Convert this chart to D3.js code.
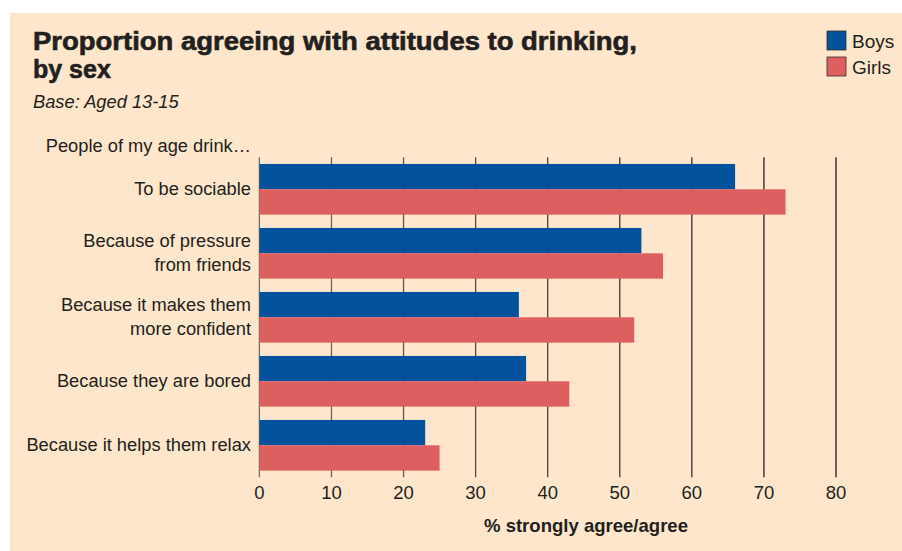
<!DOCTYPE html>
<html lang="en">
<head>
<meta charset="UTF-8">
<title>Proportion agreeing with attitudes to drinking</title>
<script src="https://d3js.org/d3.v7.min.js"></script>
<style>
  body { margin: 0; background: #ffffff; }
  text { font-family: "Liberation Sans", Arial, sans-serif; fill: #231f20; }
</style>
</head>
<body>
<div id="chart"></div>
<script>
// data
const categories = [
    ["To be sociable"],
    ["Because of pressure", "from friends"],
    ["Because it makes them", "more confident"],
    ["Because they are bored"],
    ["Because it helps them relax"]
];
const boys = [66, 53, 36, 37, 23];
const girls = [73, 56, 52, 43, 25];
const ticks = [0, 10, 20, 30, 40, 50, 60, 70, 80];
const seriesNames = ["Boys", "Girls"];
const colors = ["#02539c", "#dd5f60"];

const W = 902, H = 551;

const svg = d3.select("#chart")
    .append("svg")
    .attr("width", W)
    .attr("height", H);

// peach panel
svg.append("rect")
    .attr("x", 10).attr("y", 13)
    .attr("width", W - 10).attr("height", H - 13)
    .attr("fill", "#fde6cb");

const x = d3.scaleLinear().domain([0, 80]).range([259.4, 836]);
const y = d3.scaleBand()
    .domain(d3.range(categories.length))
    .range([157.3, 477.3])
    .paddingInner(0.208)
    .paddingOuter(0.104);
const sub = d3.scaleBand().domain([0, 1]).range([0, y.bandwidth()]);

// gridlines (behind bars)
svg.append("g")
    .selectAll("line")
    .data(ticks)
    .enter()
    .append("line")
    .attr("x1", d => x(d)).attr("x2", d => x(d))
    .attr("y1", 157.3).attr("y2", 477.3)
    .attr("stroke", d => d3.interpolateRgb("#7a6a5c", "#1a1a1a")(d / 80))
    .attr("stroke-width", 1.3);

// bars
const rows = categories.map((c, i) => ({ i, values: [boys[i], girls[i]] }));
const grp = svg.append("g").selectAll("g")
    .data(rows)
    .enter()
    .append("g")
    .attr("transform", d => `translate(0,${y(d.i)})`);

grp.selectAll("rect")
    .data(d => d.values.map((v, k) => ({ v, k })))
    .enter()
    .append("rect")
    .attr("x", x(0))
    .attr("y", d => sub(d.k))
    .attr("width", d => x(d.v) - x(0))
    .attr("height", sub.bandwidth())
    .attr("fill", d => colors[d.k]);

// category labels
const lab = svg.append("g").selectAll("text")
    .data(rows)
    .enter()
    .append("text")
    .attr("text-anchor", "end")
    .attr("font-size", 18.3)
    .attr("y", d => y(d.i) + y.bandwidth() / 2 + 6 - (categories[d.i].length - 1) * 12);
lab.selectAll("tspan")
    .data(d => categories[d.i])
    .enter()
    .append("tspan")
    .attr("x", 251)
    .attr("dy", (d, k) => k === 0 ? 0 : 24)
    .text(d => d);

// x tick labels
svg.append("g").selectAll("text")
    .data(ticks)
    .enter()
    .append("text")
    .attr("x", d => x(d))
    .attr("y", 499)
    .attr("text-anchor", "middle")
    .attr("font-size", 18.5)
    .text(d => d);

// axis title
svg.append("text")
    .attr("x", 586).attr("y", 532)
    .attr("text-anchor", "middle")
    .attr("font-size", 18.5)
    .attr("font-weight", "bold")
    .attr("textLength", 204).attr("lengthAdjust", "spacingAndGlyphs")
    .text("% strongly agree/agree");

// titles
svg.append("text")
    .attr("x", 33).attr("y", 50)
    .attr("font-size", 25)
    .attr("font-weight", "bold")
    .attr("stroke", "#231f20").attr("stroke-width", 0.6)
    .attr("textLength", 604).attr("lengthAdjust", "spacingAndGlyphs")
    .text("Proportion agreeing with attitudes to drinking,");
svg.append("text")
    .attr("x", 33).attr("y", 78)
    .attr("font-size", 25)
    .attr("font-weight", "bold")
    .attr("stroke", "#231f20").attr("stroke-width", 0.6)
    .text("by sex");
svg.append("text")
    .attr("x", 33).attr("y", 108)
    .attr("font-size", 18.3)
    .attr("font-style", "italic")
    .text("Base: Aged 13-15");
svg.append("text")
    .attr("x", 251).attr("y", 152)
    .attr("text-anchor", "end")
    .attr("font-size", 18.3)
    .text("People of my age drink…");

// legend
const leg = svg.append("g").selectAll("g")
    .data(seriesNames)
    .enter()
    .append("g")
    .attr("transform", (d, i) => `translate(827,${31 + i * 26})`);
leg.append("rect")
    .attr("width", 19).attr("height", 19)
    .attr("fill", (d, i) => colors[i])
    .attr("stroke", "#3a2a2a").attr("stroke-width", 0.8);
leg.append("text")
    .attr("x", 25).attr("y", 17)
    .attr("font-size", 19)
    .text(d => d);
</script>
</body>
</html>
